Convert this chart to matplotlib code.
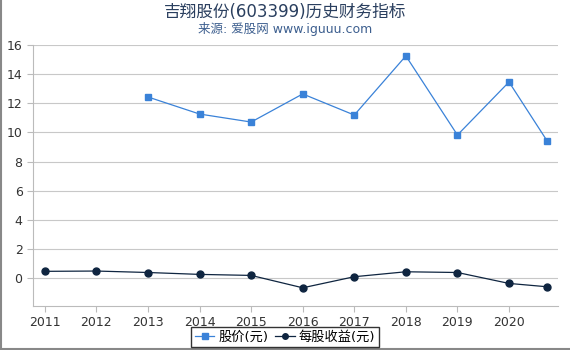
import matplotlib.pyplot as plt

plt.rcParams['font.family'] = ['DejaVu Sans', 'Noto Sans CJK SC']

# year positions (last point is a partial year)
price_x = [2013, 2014, 2015, 2016, 2017, 2018, 2019, 2020, 2020.74]
price = [12.43, 11.26, 10.71, 12.64, 11.19, 15.25, 9.82, 13.46, 9.41]

eps_x = [2011, 2012, 2013, 2014, 2015, 2016, 2017, 2018, 2019, 2020, 2020.74]
eps = [0.46, 0.48, 0.38, 0.25, 0.18, -0.67, 0.09, 0.43, 0.38, -0.37, -0.60]

year_ticks = list(range(2011, 2021))
y_ticks = [0, 2, 4, 6, 8, 10, 12, 14, 16]

fig = plt.figure(figsize=(5.7, 3.5), dpi=100)
ax = fig.add_axes([33 / 570, 1 - 306 / 350, 525 / 570, 261 / 350])

ax.plot(price_x, price, '-s', color='#3a82d8', markersize=5, linewidth=0.9,
        label='股价(元)')
ax.plot(eps_x, eps, '-o', color='#0f2540', markersize=5, linewidth=0.9,
        label='每股收益(元)')

ax.set_xlim(2010.77, 2020.95)
ax.set_ylim(-1.92, 16)
ax.set_xticks(year_ticks)
ax.set_yticks(y_ticks)
ax.tick_params(colors='#333333', labelsize=9, length=4, color='#bbbbbb')
ax.grid(axis='y', color='#c8c8c8', linewidth=0.8)
ax.set_axisbelow(True)
for side in ['top', 'right']:
    ax.spines[side].set_visible(False)
for side in ['left', 'bottom']:
    ax.spines[side].set_color('#bbbbbb')

fig.text(0.5, 0.965, '吉翔股份(603399)历史财务指标', ha='center', va='center',
         fontsize=12, color='#2a3f5f')
fig.text(0.5, 0.918, '来源: 爱股网 www.iguuu.com', ha='center', va='center',
         fontsize=9, color='#3d5f8f')

leg = fig.legend(loc='center', bbox_to_anchor=(0.5, 1 - 337 / 350), ncol=2,
                 fontsize=9.5, frameon=True, fancybox=False, handlelength=1.5,
                 handletextpad=0.3, columnspacing=0.5, borderpad=0.3,
                 markerscale=0.8)
leg.get_frame().set_edgecolor('black')
leg.get_frame().set_linewidth(1.0)

# grey border on left and bottom of the image
fig.add_artist(plt.Line2D([0.002, 0.002], [0, 1], color='#888888', linewidth=1.5))
fig.add_artist(plt.Line2D([0, 1], [0.003, 0.003], color='#888888', linewidth=1.5))

fig.savefig('out.png', dpi=100)
